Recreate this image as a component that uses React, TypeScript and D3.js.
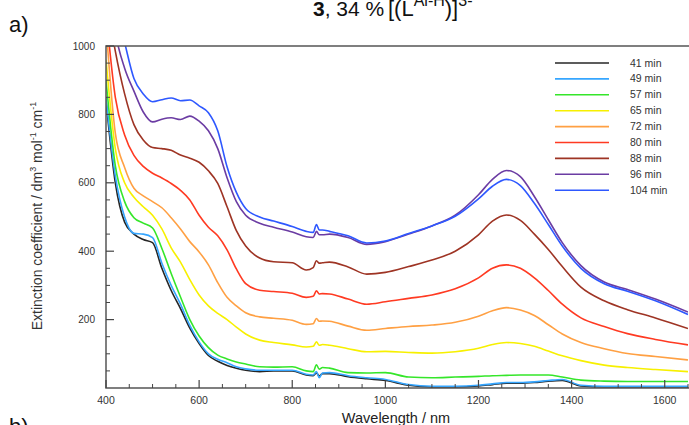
import * as React from "react";
import * as d3 from "d3";

// wavelength grid (nm) shared by all spectra
const wavelengths = [
  400, 420, 440, 460, 480, 500, 520, 540, 560, 580, 600, 620, 640, 660, 680,
  700, 730, 760, 800, 830, 845, 852, 858, 865, 880, 920, 960, 1000, 1050, 1100,
  1150, 1200, 1230, 1260, 1290, 1320, 1350, 1380, 1420, 1470, 1520, 1580, 1650,
];

const labels = ["41 min", "49 min", "57 min", "65 min", "72 min", "80 min", "88 min", "96 min", "104 min"];
const colors = ["#262626", "#36a6ff", "#35e62a", "#f7f000", "#ffa043", "#ff3a22", "#9e3424", "#6b3ca3", "#2e58ff"];

const s41 = [840, 600, 485, 450, 434, 425, 350, 285, 232, 175, 130, 95, 78, 66, 58, 52, 48, 50, 50, 38, 36, 44, 35, 42, 42, 33, 27, 22, 8, 3, 3, 6, 10, 14, 14, 16, 20, 22, 6, 3, 3, 3, 3];
const s49 = [850, 620, 500, 452, 450, 440, 365, 300, 245, 183, 135, 100, 84, 74, 62, 56, 52, 52, 52, 40, 38, 48, 30, 44, 45, 36, 30, 25, 10, 5, 5, 8, 12, 16, 16, 18, 22, 25, 8, 5, 5, 5, 5];
const s57 = [900, 650, 545, 498, 482, 468, 408, 335, 266, 200, 152, 118, 96, 85, 76, 70, 62, 61, 62, 50, 48, 68, 55, 60, 58, 45, 44, 45, 32, 30, 32, 34, 36, 37, 38, 38, 38, 32, 23, 20, 19, 19, 19];
const s65 = [960, 700, 600, 558, 530, 505, 465, 410, 368, 317, 272, 240, 218, 200, 178, 158, 140, 133, 126, 120, 122, 135, 125, 127, 125, 115, 106, 107, 104, 102, 106, 116, 127, 133, 130, 122, 108, 94, 80, 67, 60, 54, 48];
const s72 = [1060, 745, 645, 584, 562, 545, 527, 498, 465, 428, 398, 360, 308, 265, 240, 220, 208, 204, 198, 186, 188, 203, 195, 196, 195, 181, 169, 174, 180, 184, 192, 210, 226, 235, 228, 212, 185, 158, 133, 115, 101, 92, 82];
const s80 = [1100, 850, 740, 680, 648, 628, 614, 598, 578, 550, 505, 470, 445, 404, 348, 305, 286, 282, 277, 265, 268, 284, 275, 276, 275, 260, 245, 252, 262, 272, 290, 322, 350, 360, 350, 322, 285, 245, 205, 180, 159, 142, 126];
const s88 = [1150, 985, 860, 770, 725, 703, 700, 695, 681, 672, 660, 635, 598, 530, 460, 415, 380, 369, 366, 345, 352, 372, 365, 366, 368, 354, 333, 338, 355, 374, 400, 448, 488, 506, 490, 450, 405, 355, 295, 255, 229, 205, 174];
const s96 = [1250, 1040, 935, 868, 807, 778, 786, 790, 785, 795, 780, 752, 700, 615, 545, 505, 482, 470, 456, 442, 440, 458, 448, 448, 450, 440, 420, 428, 450, 474, 505, 565, 610, 636, 618, 560, 492, 425, 358, 310, 288, 260, 222];
const s104 = [1250, 1120, 1010, 905, 860, 837, 843, 848, 840, 842, 825, 805, 752, 647, 572, 525, 500, 488, 472, 458, 455, 478, 462, 462, 458, 445, 424, 430, 452, 474, 502, 553, 590, 610, 592, 540, 478, 415, 350, 305, 283, 255, 215];

const series = [s41, s49, s57, s65, s72, s80, s88, s96, s104];

const xTicks = [400, 600, 800, 1000, 1200, 1400, 1600];
const yTicks = [200, 400, 600, 800, 1000];

const W = 689;
const H = 425;
const plot = { left: 106, right: 688, top: 46, bottom: 388 };
const font = "'Liberation Sans', Arial, Helvetica, sans-serif";

export default function App() {
  const x = d3.scaleLinear().domain([400, 1650]).range([plot.left, plot.right]);
  const y = d3.scaleLinear().domain([0, 1000]).range([plot.bottom, plot.top]);

  const line = d3
    .line<number>()
    .x((_, i) => x(wavelengths[i]))
    .y((d) => y(d))
    .curve(d3.curveMonotoneX);

  const xMinor = d3.range(450, 1651, 50).filter((v) => v % 200 !== 0);
  const yMinor = d3.range(50, 1000, 50).filter((v) => v % 200 !== 0);

  return (
    <svg
      width={W}
      height={H}
      style={{ position: "absolute", left: 0, top: 0, background: "#fff" }}
      fontFamily={font}
    >
      <defs>
        <clipPath id="plot-clip">
          <rect x={plot.left} y={plot.top} width={plot.right - plot.left} height={plot.bottom - plot.top} />
        </clipPath>
      </defs>

      {/* title, cut by the top edge as in the source */}
      <text x={313} y={16} fontSize={21} fill="#111">
        <tspan fontWeight="bold">3</tspan>
        <tspan>, 34 %</tspan>
      </text>
      <text x={388} y={16} fontSize={22} fill="#111">
        <tspan>[(L</tspan>
        <tspan fontSize={16} dy={-10}>Al-H</tspan>
        <tspan dy={10}>)]</tspan>
        <tspan fontSize={16} dy={-10}>3-</tspan>
      </text>
      <text x={9} y={32} fontSize={22} fill="#111">a)</text>
      <text x={9} y={434} fontSize={22} fill="#111">b)</text>

      <g clipPath="url(#plot-clip)">
        {series.map((s, i) => (
          <path key={labels[i]} d={line(s) ?? ""} fill="none" stroke={colors[i]} strokeWidth={1.6} />
        ))}
      </g>

      {/* frame */}
      <rect
        x={plot.left}
        y={plot.top}
        width={plot.right - plot.left + 4}
        height={plot.bottom - plot.top}
        fill="none"
        stroke="#555"
        strokeWidth={1.5}
      />

      {/* x axis ticks */}
      {xTicks.map((t) => (
        <g key={t}>
          <line x1={x(t)} x2={x(t)} y1={plot.bottom} y2={plot.bottom - 8} stroke="#444" strokeWidth={1.2} />
          <text x={x(t)} y={404} fontSize={10.5} textAnchor="middle" fill="#333">{t}</text>
        </g>
      ))}
      {xMinor.map((t) => (
        <line key={t} x1={x(t)} x2={x(t)} y1={plot.bottom} y2={plot.bottom - 4} stroke="#444" strokeWidth={1} />
      ))}

      {/* y axis ticks */}
      {yTicks.map((t) => (
        <g key={t}>
          <line x1={plot.left} x2={plot.left + 8} y1={y(t)} y2={y(t)} stroke="#444" strokeWidth={1.2} />
          <text x={95} y={y(t) + 3.5} fontSize={10} textAnchor="end" fill="#333">{t}</text>
        </g>
      ))}
      {yMinor.map((t) => (
        <line key={t} x1={plot.left} x2={plot.left + 4} y1={y(t)} y2={y(t)} stroke="#444" strokeWidth={1} />
      ))}

      {/* axis titles */}
      <text x={396} y={423} fontSize={14.5} textAnchor="middle" fill="#222">Wavelength / nm</text>
      <text transform="translate(42,216) rotate(-90)" fontSize={14} textAnchor="middle" fill="#333">
        <tspan>Extinction coefficient / dm</tspan>
        <tspan fontSize={9} dy={-6}>3</tspan>
        <tspan dy={6}> mol</tspan>
        <tspan fontSize={9} dy={-6}>-1</tspan>
        <tspan dy={6}> cm</tspan>
        <tspan fontSize={9} dy={-6}>-1</tspan>
      </text>

      {/* legend */}
      {labels.map((l, i) => {
        const ly = 63 + i * 15.9;
        return (
          <g key={l}>
            <line x1={555} x2={609} y1={ly} y2={ly} stroke={colors[i]} strokeWidth={1.6} />
            <text x={630} y={ly + 3.5} fontSize={10.5} fill="#333">{l}</text>
          </g>
        );
      })}
    </svg>
  );
}
